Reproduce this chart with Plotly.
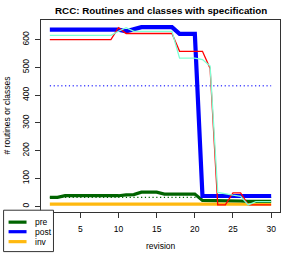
import plotly.graph_objects as go

revision = list(range(1, 31))
pre = [32, 32, 38, 38, 38, 38, 38, 38, 38, 38, 41, 42, 51, 51, 51, 44, 44, 44, 44, 44,
       21, 21, 20, 20, 20, 19, 18, 18, 18, 18]
post = [636] * 10 + [630, 636] + [645] * 5 + [621] * 3 + [37] * 10
inv = [8] * 30
routines_a = [600] * 9 + [643] + [622] * 7 + [558] * 4 + [496, 5, 5, 48, 48, 5, 5, 5, 5]
routines_b = [615] * 9 + [630, 643] + [630] * 6 + [533, 533, 533, 528] + [505, 50, 44, 40, 36, 5, 17, 17, 17]
ref_post = [434] * 30
ref_pre = [32] * 30

x_ticks = [0, 5, 10, 15, 20, 25, 30]
y_ticks = [0, 100, 200, 300, 400, 500, 600]

FONT = "Liberation Sans, Arial, sans-serif"
FS = 8.5

fig = go.Figure()
fig.add_trace(go.Scatter(x=revision, y=ref_post, mode="lines",
                         line=dict(color="#4a4aff", width=1.4, dash="1.2px,2.6px")))
fig.add_trace(go.Scatter(x=revision, y=ref_pre, mode="lines",
                         line=dict(color="#006400", width=1.4, dash="1.2px,2.6px")))
fig.add_trace(go.Scatter(x=revision, y=inv, mode="lines",
                         line=dict(color="#FFB90F", width=3.2)))
fig.add_trace(go.Scatter(x=revision, y=pre, mode="lines",
                         line=dict(color="#006400", width=3.2)))
fig.add_trace(go.Scatter(x=revision, y=post, mode="lines",
                         line=dict(color="#0000FF", width=4.2)))
fig.add_trace(go.Scatter(x=revision, y=routines_a, mode="lines",
                         line=dict(color="#FF0000", width=1.3)))
fig.add_trace(go.Scatter(x=revision, y=routines_b, mode="lines",
                         line=dict(color="#7FFFD4", width=1.3)))

W, H = 294, 254
# window-pixel positions of the plot frame
WX0, WX1, WY0, WY1 = 40.5, 280.0, 19.5, 212.5
L = WX0
T = WY0
pw = WX1 - WX0
ph = WY1 - WY0
R = W - L - pw
B = H - T - ph


def px(xw):
    return (xw - WX0) / pw


def py(yw):
    return (WY1 - yw) / ph


fig.update_layout(
    width=W, height=H, showlegend=False,
    margin=dict(l=L, r=R, t=T, b=B, autoexpand=False),
    paper_bgcolor="white", plot_bgcolor="white",
    font=dict(family=FONT, size=FS, color="#000"),
    xaxis=dict(range=[-0.16, 31.16], tickvals=x_ticks, ticks="outside", ticklen=5,
               tickcolor="#333", showline=True, linecolor="#333", linewidth=1, mirror=True,
               showgrid=False, zeroline=False, tickfont=dict(size=FS), ticklabelstandoff=4,
               automargin=False),
    yaxis=dict(range=[-20.6, 670.6], tickvals=y_ticks, ticks="outside", ticklen=5,
               tickcolor="#333", showline=True, linecolor="#333", linewidth=1, mirror=True,
               showgrid=False, zeroline=False, tickangle=-90, tickfont=dict(size=FS),
               ticklabelstandoff=3, automargin=False),
)

annotations = [
    dict(text="<b>RCC: Routines and classes with specification</b>", x=0.5, y=1,
         xref="paper", yref="paper", yshift=WY0 - 10, xanchor="center", yanchor="middle",
         showarrow=False, font=dict(size=9.8, family=FONT)),
    dict(text="revision", x=0.5, y=0, xref="paper", yref="paper", yshift=WY1 - 246,
         xanchor="center", yanchor="middle", showarrow=False, font=dict(size=FS)),
    dict(text="# routines or classes", x=0, y=0.5, xref="paper", yref="paper",
         xshift=6 - WX0, textangle=-90, xanchor="center", yanchor="middle",
         showarrow=False, font=dict(size=FS)),
]

# legend box
shapes = [dict(type="rect", xref="paper", yref="paper", x0=px(3), x1=px(53),
               y0=py(252.3), y1=py(210.7), fillcolor="white",
               line=dict(color="#333", width=1), layer="above")]
legend_items = [("pre", "#006400", 222.7), ("post", "#0000FF", 232.3), ("inv", "#FFB90F", 242.3)]
for name, col, yy in legend_items:
    shapes.append(dict(type="line", xref="paper", yref="paper", x0=px(8), x1=px(26),
                       y0=py(yy), y1=py(yy), line=dict(color=col, width=3.2), layer="above"))
    annotations.append(dict(text=name, x=px(32.5), y=py(yy), xref="paper", yref="paper",
                            xanchor="left", yanchor="middle", showarrow=False,
                            font=dict(size=FS)))

fig.update_layout(shapes=shapes, annotations=annotations)
fig.write_html("out.html", config={"displayModeBar": False},
               post_script="document.body.style.margin='0';")
